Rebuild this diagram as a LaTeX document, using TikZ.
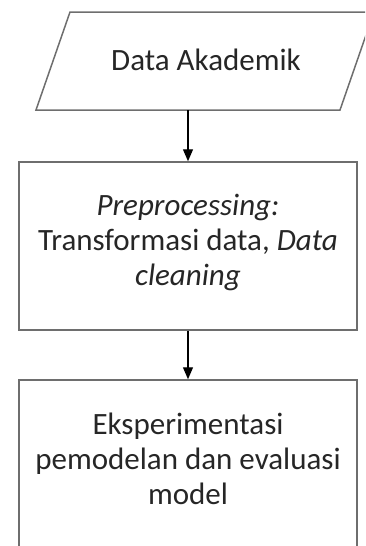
\documentclass[tikz,border=0pt]{standalone}
\usepackage{fontspec}
\setmainfont{Carlito}
\usetikzlibrary{arrows.meta}
\definecolor{boxgray}{HTML}{6E6E6E}
\definecolor{txt}{HTML}{262626}
\begin{document}
\begin{tikzpicture}[x=1pt,y=-1pt,
  label/.style={text=txt,font=\fontsize{31}{35}\selectfont,align=center,inner sep=0pt},
  stepbox/.style={draw=boxgray,line width=1.5pt,rectangle,minimum width=338pt,minimum height=168pt,inner sep=0pt},
  shapeline/.style={draw=boxgray,line width=1.5pt,line join=miter},
  flow/.style={draw=black,line width=1.2pt,-{Triangle[width=10pt,length=12pt]}}]
\useasboundingbox (0,0) rectangle (365,546);
\clip (0,0) rectangle (365,546);
% parallelogram (input)
\coordinate (p1) at (36,110);
\coordinate (p2) at (70,12);
\coordinate (p3) at (374,12);
\coordinate (p4) at (340,110);
\draw[shapeline] (p1) -- (p2) -- (p3) -- (p4) -- cycle;
\node[label] (a) at (206,60) {Data Akademik};
\node[stepbox] (b) at (188,246) {};
\node[label] (bt) at (188,242) {\textit{Preprocessing:}\\Transformasi data, \textit{Data}\\\textit{cleaning}};
\node[stepbox] (c) at (188,464) {};
\node[label] (ct) at (188,459) {Eksperimentasi\\pemodelan dan evaluasi\\model};
\coordinate (as) at (b.north |- p1);
\draw[flow] (as) -- (b.north);
\draw[flow] (b.south) -- (c.north);
\end{tikzpicture}
\end{document}
